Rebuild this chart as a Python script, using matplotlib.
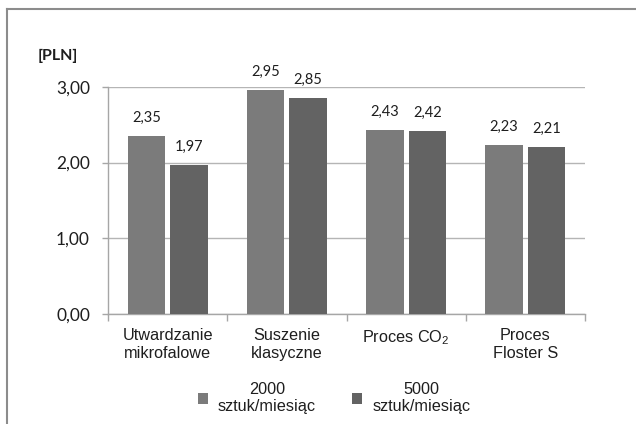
import matplotlib
matplotlib.use("Agg")
import matplotlib.pyplot as plt
from matplotlib.lines import Line2D
from matplotlib.patches import Patch
import numpy as np

# Unit cost of production per technology, PLN
categories = ["Utwardzanie\nmikrofalowe", "Suszenie\nklasyczne", "Proces CO$_2$", "Proces\nFloster S"]
series_names = ["2000\nsztuk/miesiąc", "5000\nsztuk/miesiąc"]
values_2000 = [2.35, 2.95, 2.43, 2.23]
values_5000 = [1.97, 2.85, 2.42, 2.21]
y_ticks = [0.0, 1.0, 2.0, 3.0]

colors = ["#7b7b7b", "#636363"]
num_font = "Lato"
cat_font = "Liberation Sans"
text_color = "#1e1e1e"

plt.rcParams["mathtext.fontset"] = "custom"
plt.rcParams["mathtext.rm"] = cat_font
plt.rcParams["mathtext.it"] = cat_font

W, H = 636, 424
fig = plt.figure(figsize=(W / 100, H / 100), dpi=100)
fig.patch.set_facecolor("white")

ax = fig.add_axes([108 / W, 1 - 314.3 / H, (585 - 108) / W, (314.3 - 86.7) / H])

x = np.arange(len(categories)) + 0.5
bw = 0.314
off = 0.178
b1 = ax.bar(x - off, values_2000, bw, color=colors[0], label=series_names[0], zorder=3)
b2 = ax.bar(x + off, values_5000, bw, color=colors[1], label=series_names[1], zorder=3)

fmt = lambda v: f"{v:.2f}".replace(".", ",")
for bars in (b1, b2):
    for r in bars:
        v = r.get_height()
        ax.annotate(fmt(v), (r.get_x() + r.get_width() / 2, v), xytext=(0, 8),
                    textcoords="offset points", ha="center", va="bottom",
                    fontsize=10.5, family=num_font, color=text_color)

ax.set_xlim(0, len(categories))
ax.set_ylim(0, 3)
ax.set_yticks(y_ticks)
ax.set_yticklabels([fmt(v) for v in y_ticks], family=num_font, fontsize=12.5, color=text_color)
ax.tick_params(axis="y", length=4, width=1, color="#a6a6a6", pad=9)

# category boundaries carry the tick marks, names sit between them
ax.set_xticks(np.arange(len(categories) + 1))
ax.set_xticklabels([])
ax.tick_params(axis="x", which="major", length=5, width=1, color="#a6a6a6")
ax.set_xticks(x, minor=True)
ax.set_xticklabels(categories, minor=True, family=cat_font, fontsize=11.7,
                   color=text_color, linespacing=1.2)
ax.tick_params(axis="x", which="minor", length=0, pad=10)

ax.yaxis.grid(True, color="#b5b5b5", linewidth=1, zorder=0)
ax.set_axisbelow(True)
for s in ("top", "right"):
    ax.spines[s].set_visible(False)
for s in ("left", "bottom"):
    ax.spines[s].set_color("#a6a6a6")
    ax.spines[s].set_linewidth(1)

fig.text(38 / W, 1 - 56 / H, "[PLN]", family=num_font, fontweight="bold",
         fontsize=11.5, color=text_color, ha="left", va="center")

handles = [Patch(facecolor=c, edgecolor="none") for c in colors]
leg = fig.legend(handles, series_names, loc="center", ncol=2,
                 bbox_to_anchor=(334 / W, 1 - 398 / H), frameon=False,
                 prop={"family": cat_font, "size": 11.7},
                 handlelength=0.65, handleheight=0.65, handletextpad=0.6,
                 columnspacing=2.2)
for t in leg.get_texts():
    t.set_multialignment("center")
    t.set_linespacing(1.12)
    t.set_color(text_color)

# chart border (top and left edges)
fig.add_artist(Line2D([7 / W, 1], [1 - 9.3 / H] * 2, transform=fig.transFigure,
                      color="#8c8c8c", linewidth=1.5))
fig.add_artist(Line2D([7 / W] * 2, [0, 1 - 9.3 / H], transform=fig.transFigure,
                      color="#8c8c8c", linewidth=1.5))

fig.savefig("out.png", dpi=100)
